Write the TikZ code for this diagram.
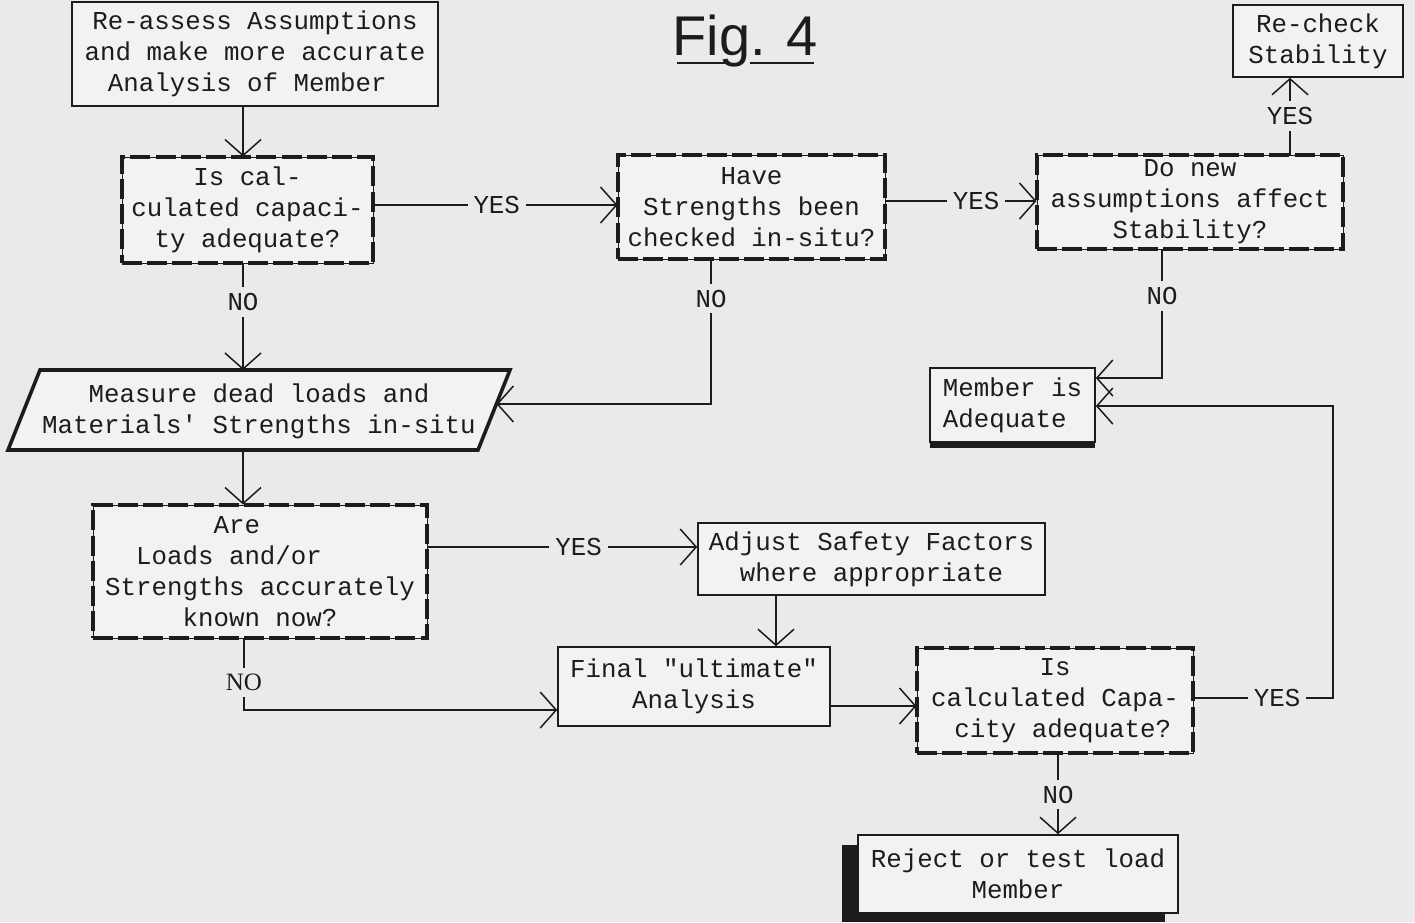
\documentclass[tikz,border=0pt]{standalone}
\usepackage{fontspec}
\usetikzlibrary{arrows.meta,calc}
\newfontfamily\typew{Liberation Mono}
\newfontfamily\romn{Liberation Serif}
\newfontfamily\hand{Liberation Sans}
\newcommand\fcfont{\typew\fontsize{12.9pt}{15.5pt}\selectfont}
\newcommand\chsp[1]{\hphantom{#1}}
\definecolor{paper}{RGB}{234,234,234}
\definecolor{boxfill}{RGB}{242,242,242}
\definecolor{ink}{RGB}{28,28,28}
\tikzset{
  >={Straight Barb[length=8pt,width=18pt]},
  box/.style={draw=ink, line width=0.8pt, fill=boxfill, inner sep=0pt,
    align=center, font=\fcfont, text=ink},
  decision/.style={box, line width=0.5pt,
    postaction={draw=ink, line width=2.3pt, dash pattern=on 10pt off 2.6pt}},
  flow/.style={draw=ink, line width=0.75pt, ->},
  lbl/.style={fill=paper, inner sep=3pt, font=\fcfont, text=ink},
}
\begin{document}
\begin{tikzpicture}[x=0.5pt,y=-0.5pt]
% page
\fill[paper] (0,0) rectangle (1415,922);
\useasboundingbox (0,0) rectangle (1415,922);

% title
\node[font=\hand\fontsize{28pt}{30pt}\selectfont, text=ink, anchor=base, inner sep=0pt] (title) at (745,55) {Fig. 4};
\draw[ink, line width=1.4pt] (677,63) -- (727,63) (750,63) -- (814,63);

% process boxes
\node[box, minimum width=183pt, minimum height=52pt] (reassess) at (255,54)
  {Re-assess Assumptions\\and make more accurate\\Analysis of Member\chsp{x}};
\node[box, minimum width=85pt, minimum height=36pt] (recheck) at (1318,41)
  {Re-check\\Stability};
\fill[ink] (930,441) rectangle (1095,448);
\node[box, minimum width=82.5pt, minimum height=37pt, align=left] (adequate) at (1012.5,405)
  {Member is\\Adequate};
\node[box, minimum width=173.5pt, minimum height=36pt] (adjust) at (871.5,559)
  {Adjust Safety Factors\\where appropriate};
\node[box, minimum width=136pt, minimum height=39.5pt] (final) at (694,686.5)
  {Final "ultimate"\\Analysis};
\fill[ink] (842,845) rectangle (1165,922);
\node[box, minimum width=160pt, minimum height=39pt] (reject) at (1018,874)
  {Reject or test load\\Member};

% input / output parallelogram
\coordinate (mTL) at (40,370);
\coordinate (mTR) at (510,370);
\coordinate (mBR) at (478,450);
\coordinate (mBL) at (8,450);
\draw[ink, line width=1.8pt, fill=boxfill, line join=miter] (mTL) -- (mTR) -- (mBR) -- (mBL) -- cycle;
\node[font=\fcfont, text=ink, align=center, inner sep=0pt] (measure) at (259,411.5)
  {Measure dead loads and\\Materials' Strengths in-situ};
\coordinate (mT) at (243,370);
\coordinate (mB) at (243,450);
\coordinate (mR) at (496.4,404);

% decisions
\node[decision, minimum width=125.5pt, minimum height=53pt] (d1) at (247.5,210)
  {Is cal-\\culated capaci-\\ty adequate?};
\node[decision, minimum width=133.5pt, minimum height=52pt] (d2) at (751.5,207)
  {Have\\Strengths been\\checked in-situ?};
\node[decision, minimum width=153pt, minimum height=47pt] (d3) at (1190,202)
  {Do new\\assumptions affect\\Stability?};
\node[decision, minimum width=167pt, minimum height=66.5pt] (d4) at (260,571.5)
  {Are\chsp{xxx}\\Loads and/or\chsp{xxxx}\\Strengths accurately\\known now?};
\node[decision, minimum width=138pt, minimum height=52.5pt] (d5) at (1055,700.5)
  {Is\\calculated Capa-\\\chsp{x}city adequate?};

% guide coordinates for connector rows and columns
\coordinate (cA) at (243,0);
\coordinate (cB) at (711,0);
\coordinate (cC) at (1162,0);
\coordinate (cD) at (1290,0);
\coordinate (cE) at (776,0);
\coordinate (cF) at (1058,0);
\coordinate (cG) at (1333,0);
\coordinate (cH) at (244,0);
\coordinate (r1) at (0,205);
\coordinate (r2) at (0,201);
\coordinate (r3) at (0,378);
\coordinate (r4) at (0,406);
\coordinate (r5) at (0,547);
\coordinate (r6) at (0,710);
\coordinate (r7) at (0,706);
\coordinate (r8) at (0,698);

% connectors
\draw[flow] (reassess.south -| cA) -- (d1.north -| cA);
\draw[flow] (d1.east |- r1) -- node[lbl, pos=0.505] {YES} (d2.west |- r1);
\draw[flow] (d2.east |- r2) -- node[lbl, pos=0.6] {YES} (d3.west |- r2);
\draw[flow] (d3.north -| cD) -- node[lbl, pos=0.5] {YES} (recheck.south -| cD);
\draw[flow] (d3.south -| cC) -- node[lbl, pos=0.36] {NO} (cC |- r3) -- (adequate.east |- r3);
\draw[flow] (d1.south -| cA) -- node[lbl, pos=0.36] {NO} (mT);
\draw[flow] (d2.south -| cB) -- node[lbl, pos=0.27] {NO} (cB |- mR) -- (mR);
\draw[flow] (mB) -- (d4.north -| cA);
\draw[flow] (d4.east |- r5) -- node[lbl, pos=0.56] {YES} (adjust.west |- r5);
\draw[flow] (adjust.south -| cE) -- (final.north -| cE);
\draw[flow] (d4.south -| cH) -- node[lbl, pos=0.61, font=\romn\fontsize{12.5pt}{14pt}\selectfont] {NO} (cH |- r6) -- (final.west |- r6);
\draw[flow] (final.east |- r7) -- (d5.west |- r7);
\draw[flow] (d5.east |- r8) -- node[lbl, pos=0.6] {YES} (cG |- r8) -- (cG |- r4) -- (adequate.east |- r4);
\draw[flow] (d5.south -| cF) -- node[lbl, pos=0.51] {NO} (reject.north -| cF);
\end{tikzpicture}
\end{document}
